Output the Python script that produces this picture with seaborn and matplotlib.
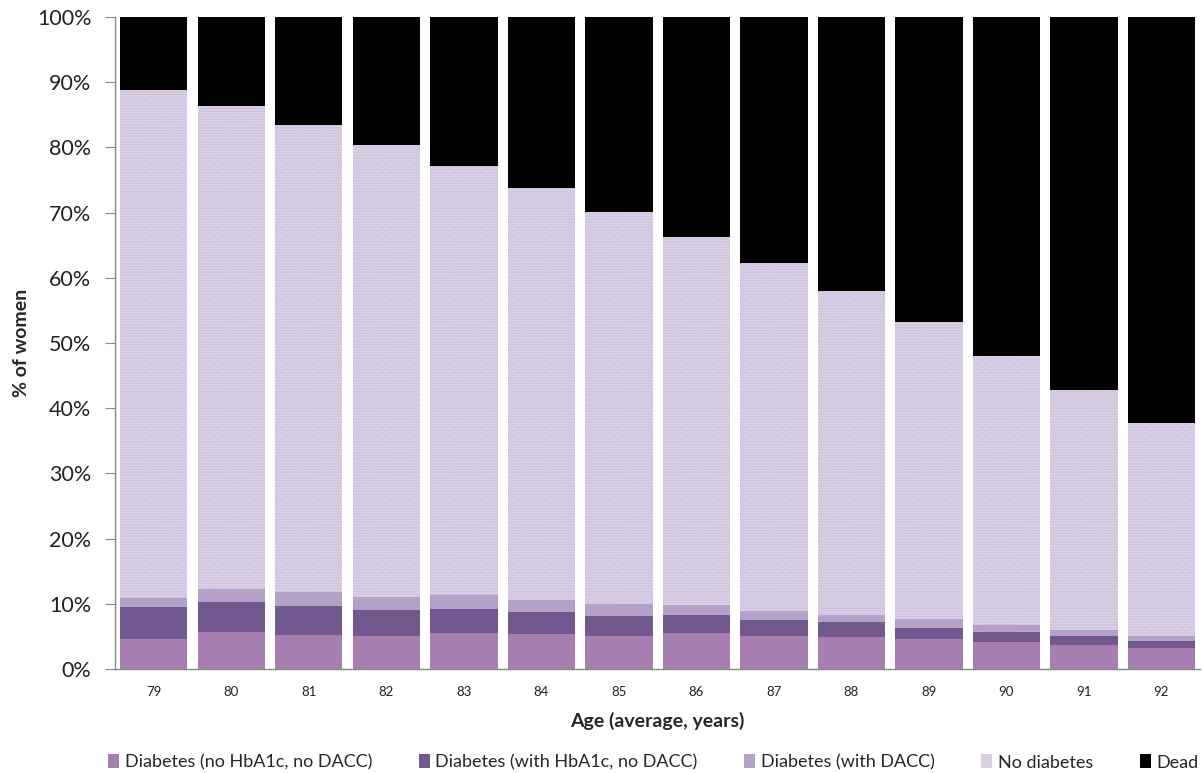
import numpy as np
import pandas as pd
import matplotlib
matplotlib.use("Agg")
import matplotlib.pyplot as plt
from matplotlib.patches import Patch
import seaborn as sns

# values (% of women, cumulative boundaries per age)
ages = [79, 80, 81, 82, 83, 84, 85, 86, 87, 88, 89, 90, 91, 92]
no_hba1c = [4.6, 5.7, 5.2, 5.05, 5.6, 5.4, 5.05, 5.6, 5.05, 4.9, 4.6, 4.15, 3.7, 3.2]
with_hba1c_top = [9.5, 10.3, 9.7, 9.05, 9.2, 8.7, 8.1, 8.3, 7.5, 7.2, 6.3, 5.7, 5.05, 4.3]
with_dacc_top = [10.9, 12.2, 11.8, 11.1, 11.3, 10.6, 10.0, 9.8, 8.9, 8.3, 7.6, 6.7, 6.0, 5.05]
alive_top = [88.8, 86.4, 83.4, 80.3, 77.1, 73.7, 70.1, 66.3, 62.3, 58.0, 53.3, 48.0, 42.8, 37.7]

labels = ["Diabetes (no HbA1c, no DACC)", "Diabetes (with HbA1c, no DACC)",
          "Diabetes (with DACC)", "No diabetes", "Dead"]
colors = ["#A67FB0", "#71598F", "#B3A1C8", "#DAD0E6", "#000000"]

df = pd.DataFrame({
    "age": [str(a) for a in ages],
    "l0": no_hba1c,
    "l1": with_hba1c_top,
    "l2": with_dacc_top,
    "l3": alive_top,
    "l4": [100.0] * len(ages),
})

sns.set_style("white")
plt.rcParams["font.family"] = ["Lato", "DejaVu Sans"]
plt.rcParams["hatch.linewidth"] = 0.6

fig = plt.figure(figsize=(12.03, 7.73), dpi=100)
ax = fig.add_axes([0.0956, 0.1345, 0.902, 0.8435])

# draw tallest cumulative layer first so smaller ones sit on top
for i in range(4, -1, -1):
    sns.barplot(data=df, x="age", y=f"l{i}", color=colors[i], saturation=1,
                width=0.87, ax=ax, linewidth=0, errorbar=None)

n = len(ages)
# hatch the "No diabetes" layer (drawn second: patches n..2n-1)
for p in ax.patches[n:2 * n]:
    p.set_hatch("......")
    p.set_edgecolor("#C4B3D6")
    p.set_linewidth(0)

ax.set_ylim(0, 100)
ax.set_xlim(-0.5, n - 0.5)
ax.set_yticks(np.arange(0, 101, 10))
ax.set_yticklabels([f"{v}%" for v in range(0, 101, 10)], fontsize=15.5, color="#222222")
ax.set_xticks(range(n))
ax.set_xticklabels([str(a) for a in ages], fontsize=9.5, color="#222222")
ax.set_xticks(np.arange(-0.5, n, 1), minor=True)
ax.tick_params(axis="x", which="major", length=0, pad=12)
ax.tick_params(axis="x", which="minor", length=5, color="#888888", direction="out")
ax.tick_params(axis="y", length=7, color="#888888", direction="out", left=True, pad=10)

for s in ["top", "right"]:
    ax.spines[s].set_visible(False)
for s in ["left", "bottom"]:
    ax.spines[s].set_color("#888888")
    ax.spines[s].set_linewidth(1)

ax.set_xlabel("Age (average, years)", fontsize=14, fontweight="bold", labelpad=10)
ax.set_ylabel("% of women", fontsize=14, fontweight="bold", labelpad=5)

handles = [Patch(facecolor=c, edgecolor="none") for c in colors]
fig.legend(handles, labels, loc="lower center", bbox_to_anchor=(0.543, -0.018), ncol=5,
           frameon=False, fontsize=13, handlelength=0.6, handleheight=0.8,
           handletextpad=0.3, columnspacing=2.6)

fig.savefig("out.png", dpi=100)
